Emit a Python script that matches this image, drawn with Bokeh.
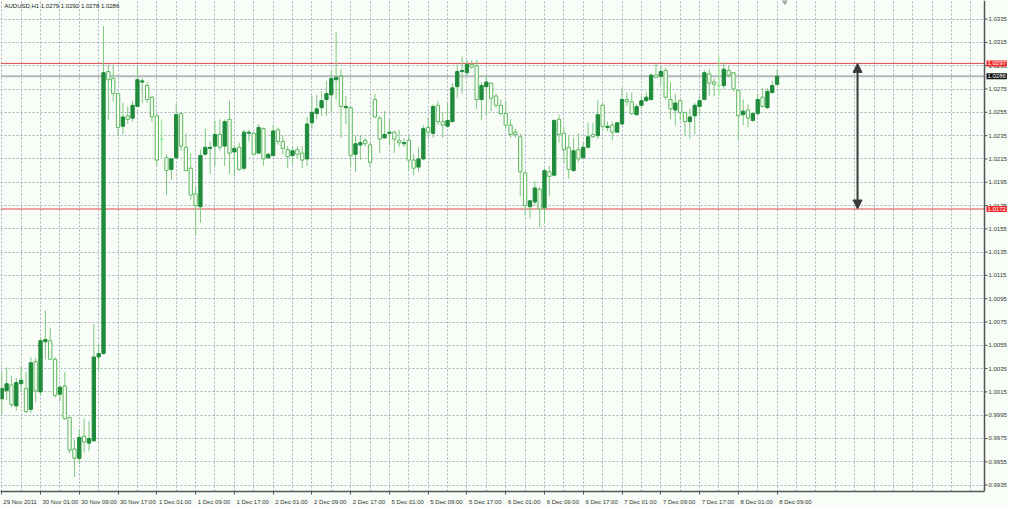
from bokeh.plotting import figure
from bokeh.models import (ColumnDataSource, FixedTicker, Span, Label, Arrow,
                          NormalHead, Range1d, BoxAnnotation)
from bokeh.embed import file_html
from bokeh.resources import INLINE
from bokeh.core.properties import value

# ---------------- data ----------------
symbol_title = "AUDUSD,H1  1.0279 1.0292 1.0278 1.0286"

opens = [1.0009, 1.0016, 1.0021, 1.0003, 1.0022, 1.0018, 1.0000, 1.0041, 1.0015, 1.0058,
         1.0059, 1.0043, 1.0013, 1.0020, 0.9993, 0.9966, 0.9958, 0.9977, 0.9971, 0.9973,
         1.0045, 1.0048, 1.0290, 1.0284, 1.0271, 1.0243, 1.0252, 1.0250, 1.0260, 1.0281,
         1.0278, 1.0268, 1.0252, 1.0232, 1.0216, 1.0206, 1.0216, 1.0254, 1.0225, 1.0207,
         1.0185, 1.0174, 1.0219, 1.0224, 1.0226, 1.0236, 1.0226, 1.0249, 1.0221, 1.0225,
         1.0207, 1.0237, 1.0237, 1.0220, 1.0241, 1.0216, 1.0218, 1.0240, 1.0230, 1.0223,
         1.0218, 1.0223, 1.0220, 1.0215, 1.0246, 1.0254, 1.0259, 1.0266, 1.0270, 1.0283,
         1.0286, 1.0259, 1.0259, 1.0219, 1.0227, 1.0231, 1.0227, 1.0266, 1.0250, 1.0233,
         1.0237, 1.0238, 1.0231, 1.0228, 1.0231, 1.0214, 1.0208, 1.0215, 1.0242, 1.0237,
         1.0261, 1.0247, 1.0243, 1.0247, 1.0277, 1.0290, 1.0289, 1.0296, 1.0295, 1.0266,
         1.0277, 1.0280, 1.0269, 1.0261, 1.0254, 1.0244, 1.0238, 1.0234, 1.0203, 1.0174,
         1.0178, 1.0189, 1.0173, 1.0204, 1.0201, 1.0249, 1.0237, 1.0225, 1.0205, 1.0223,
         1.0216, 1.0225, 1.0236, 1.0235, 1.0261, 1.0242, 1.0244, 1.0238, 1.0245, 1.0266,
         1.0264, 1.0253, 1.0261, 1.0265, 1.0266, 1.0287, 1.0286, 1.0291, 1.0266, 1.0257,
         1.0265, 1.0255, 1.0247, 1.0252, 1.0260, 1.0266, 1.0288, 1.0281, 1.0278, 1.0278,
         1.0291, 1.0289, 1.0274, 1.0253, 1.0257, 1.0248, 1.0254, 1.0268, 1.0259, 1.0272,
         1.0279]
highs = [1.0032, 1.0036, 1.0029, 1.0027, 1.0037, 1.0032, 1.0045, 1.0044, 1.0062, 1.0085,
         1.0070, 1.0045, 1.0021, 1.0032, 0.9994, 0.9974, 0.9983, 0.9992, 0.9990, 1.0073,
         1.0056, 1.0329, 1.0296, 1.0296, 1.0272, 1.0263, 1.0260, 1.0265, 1.0294, 1.0284,
         1.0281, 1.0269, 1.0254, 1.0249, 1.0219, 1.0216, 1.0262, 1.0255, 1.0237, 1.0220,
         1.0191, 1.0223, 1.0241, 1.0230, 1.0248, 1.0249, 1.0249, 1.0265, 1.0227, 1.0229,
         1.0240, 1.0240, 1.0238, 1.0245, 1.0242, 1.0220, 1.0244, 1.0242, 1.0235, 1.0226,
         1.0225, 1.0226, 1.0226, 1.0251, 1.0269, 1.0270, 1.0273, 1.0282, 1.0291, 1.0324,
         1.0292, 1.0269, 1.0260, 1.0235, 1.0235, 1.0233, 1.0229, 1.0271, 1.0252, 1.0256,
         1.0249, 1.0239, 1.0240, 1.0233, 1.0235, 1.0219, 1.0225, 1.0244, 1.0251, 1.0262,
         1.0265, 1.0255, 1.0263, 1.0280, 1.0296, 1.0303, 1.0300, 1.0300, 1.0300, 1.0281,
         1.0286, 1.0281, 1.0271, 1.0266, 1.0265, 1.0249, 1.0241, 1.0237, 1.0204, 1.0180,
         1.0196, 1.0191, 1.0207, 1.0209, 1.0249, 1.0253, 1.0242, 1.0235, 1.0233, 1.0237,
         1.0229, 1.0246, 1.0246, 1.0266, 1.0263, 1.0247, 1.0247, 1.0247, 1.0276, 1.0272,
         1.0272, 1.0262, 1.0269, 1.0272, 1.0288, 1.0297, 1.0295, 1.0293, 1.0281, 1.0271,
         1.0266, 1.0255, 1.0258, 1.0263, 1.0269, 1.0291, 1.0292, 1.0284, 1.0303, 1.0298,
         1.0295, 1.0289, 1.0275, 1.0266, 1.0262, 1.0255, 1.0271, 1.0276, 1.0276, 1.0282,
         1.0292]
lows = [0.9996, 1.0008, 1.0002, 0.9999, 1.0015, 0.9997, 0.9997, 1.0006, 1.0012, 1.0043,
        1.0042, 1.0010, 1.0007, 0.9991, 0.9962, 0.9942, 0.9953, 0.9963, 0.9964, 0.9972,
        1.0032, 1.0047, 1.0248, 1.0264, 1.0235, 1.0236, 1.0245, 1.0247, 1.0260, 1.0263,
        1.0263, 1.0247, 1.0209, 1.0216, 1.0184, 1.0197, 1.0215, 1.0222, 1.0205, 1.0180,
        1.0149, 1.0160, 1.0218, 1.0202, 1.0209, 1.0222, 1.0209, 1.0202, 1.0200, 1.0205,
        1.0205, 1.0230, 1.0218, 1.0220, 1.0209, 1.0215, 1.0217, 1.0227, 1.0219, 1.0207,
        1.0210, 1.0215, 1.0207, 1.0209, 1.0241, 1.0249, 1.0252, 1.0252, 1.0255, 1.0266,
        1.0233, 1.0245, 1.0208, 1.0204, 1.0214, 1.0226, 1.0208, 1.0250, 1.0220, 1.0233,
        1.0227, 1.0220, 1.0225, 1.0225, 1.0205, 1.0201, 1.0204, 1.0214, 1.0233, 1.0233,
        1.0244, 1.0233, 1.0242, 1.0247, 1.0267, 1.0271, 1.0286, 1.0292, 1.0258, 1.0248,
        1.0252, 1.0256, 1.0259, 1.0252, 1.0241, 1.0233, 1.0233, 1.0183, 1.0167, 1.0164,
        1.0175, 1.0156, 1.0160, 1.0183, 1.0200, 1.0229, 1.0211, 1.0198, 1.0204, 1.0212,
        1.0216, 1.0224, 1.0233, 1.0232, 1.0240, 1.0239, 1.0231, 1.0238, 1.0244, 1.0260,
        1.0253, 1.0252, 1.0258, 1.0264, 1.0265, 1.0285, 1.0278, 1.0266, 1.0249, 1.0244,
        1.0248, 1.0235, 1.0232, 1.0236, 1.0252, 1.0266, 1.0269, 1.0269, 1.0270, 1.0275,
        1.0285, 1.0273, 1.0231, 1.0244, 1.0242, 1.0247, 1.0252, 1.0259, 1.0258, 1.0271,
        1.0278]
closes = [1.0018, 1.0022, 1.0004, 1.0023, 1.0025, 0.9998, 1.0040, 1.0016, 1.0059, 1.0060,
          1.0043, 1.0012, 1.0019, 0.9992, 0.9965, 0.9958, 0.9976, 0.9972, 0.9975, 1.0045,
          1.0048, 1.0289, 1.0283, 1.0271, 1.0242, 1.0251, 1.0249, 1.0261, 1.0283, 1.0282,
          1.0266, 1.0251, 1.0214, 1.0232, 1.0205, 1.0215, 1.0253, 1.0226, 1.0205, 1.0184,
          1.0175, 1.0218, 1.0225, 1.0225, 1.0236, 1.0225, 1.0247, 1.0220, 1.0224, 1.0206,
          1.0238, 1.0238, 1.0219, 1.0242, 1.0215, 1.0219, 1.0239, 1.0230, 1.0224, 1.0217,
          1.0222, 1.0219, 1.0214, 1.0245, 1.0255, 1.0258, 1.0265, 1.0271, 1.0284, 1.0285,
          1.0260, 1.0260, 1.0218, 1.0228, 1.0229, 1.0228, 1.0212, 1.0251, 1.0232, 1.0236,
          1.0238, 1.0232, 1.0229, 1.0229, 1.0214, 1.0207, 1.0215, 1.0241, 1.0238, 1.0260,
          1.0247, 1.0244, 1.0248, 1.0276, 1.0290, 1.0291, 1.0296, 1.0294, 1.0266, 1.0278,
          1.0281, 1.0267, 1.0261, 1.0254, 1.0244, 1.0236, 1.0236, 1.0204, 1.0175, 1.0179,
          1.0190, 1.0172, 1.0205, 1.0200, 1.0248, 1.0236, 1.0223, 1.0206, 1.0222, 1.0215,
          1.0225, 1.0234, 1.0234, 1.0253, 1.0243, 1.0243, 1.0238, 1.0246, 1.0266, 1.0264,
          1.0254, 1.0260, 1.0265, 1.0268, 1.0287, 1.0285, 1.0290, 1.0268, 1.0258, 1.0263,
          1.0255, 1.0247, 1.0251, 1.0261, 1.0265, 1.0289, 1.0280, 1.0279, 1.0278, 1.0292,
          1.0287, 1.0275, 1.0252, 1.0256, 1.0250, 1.0254, 1.0266, 1.0260, 1.0273, 1.0278,
          1.0286]

time_labels = ["29 Nov 2011", "30 Nov 01:00", "30 Nov 09:00", "30 Nov 17:00",
               "1 Dec 01:00", "1 Dec 09:00", "1 Dec 17:00", "2 Dec 01:00",
               "2 Dec 09:00", "2 Dec 17:00", "5 Dec 01:00", "5 Dec 09:00",
               "5 Dec 17:00", "6 Dec 01:00", "6 Dec 09:00", "6 Dec 17:00",
               "7 Dec 01:00", "7 Dec 09:00", "7 Dec 17:00", "8 Dec 01:00",
               "8 Dec 09:00"]
bars_per_label = 8
bars_per_grid = 4

price_ticks = [0.9935, 0.9955, 0.9975, 0.9995, 1.0015, 1.0035, 1.0055, 1.0075,
               1.0095, 1.0115, 1.0135, 1.0155, 1.0175, 1.0195, 1.0215, 1.0235,
               1.0255, 1.0275, 1.0295, 1.0315, 1.0335]

level_high = 1.0297     # red line / tag
level_low = 1.0172      # red line / tag
bid_level = 1.0286      # gray bid line / black tag
arrow_bar = 176.6       # bar position of the measuring arrow
shift_bar = 161.6       # chart-shift marker

# ---------------- styling ----------------
W, H = 1008, 507
BG = "#f8fdf8"
BULL = "#1f8b3b"
BEAR_LINE = "#5cb85c"
WICK = "#80c880"
DOJI = "#86f086"
GRID = "#a9b0bf"
AXIS = "#555555"
FONT = "Liberation Sans"
FS = "6px"
SCALE_W = 24                      # pixel width of the price scale

x_start, axis_bar = -0.26, 202.8  # chart area in bar units
px_per_bar = (W - SCALE_W) / (axis_bar - x_start)
x_end = x_start + W / px_per_bar  # includes the price scale area
y_start, y_end = 0.99295, 1.03510

n = len(opens)
x = list(range(n))
kind = ["bull" if c > o else ("bear" if c < o else "doji") for o, c in zip(opens, closes)]
body_fill = [BULL if k == "bull" else (BG if k == "bear" else DOJI) for k in kind]
body_line = [BULL if k == "bull" else (BEAR_LINE if k == "bear" else DOJI) for k in kind]
wick_col = [DOJI if k == "doji" else WICK for k in kind]

src = ColumnDataSource(dict(
    x=x, o=opens, h=highs, l=lows, c=closes,
    top=[max(o, c) for o, c in zip(opens, closes)],
    bottom=[min(o, c) for o, c in zip(opens, closes)],
    fill=body_fill, line=body_line, wick=wick_col,
))

p = figure(width=W, height=H, output_backend="svg", toolbar_location=None,
           x_range=Range1d(x_start, x_end), y_range=Range1d(y_start, y_end),
           y_axis_location=None, min_border_left=0, min_border_top=0,
           min_border_right=0, min_border_bottom=0,
           background_fill_color=BG, border_fill_color=BG)
p.outline_line_color = None

# grid
p.xgrid.ticker = FixedTicker(ticks=list(range(0, 204, bars_per_grid)))
p.ygrid.ticker = FixedTicker(ticks=price_ticks)
for g in (p.xgrid, p.ygrid):
    g.grid_line_color = GRID
    g.grid_line_dash = "2 2"
    g.grid_line_width = 1

# horizontal levels (underlay, so the price scale box hides their tail)
p.add_layout(Span(location=bid_level, dimension="width", line_color="#b4b9be",
                  line_width=2, level="underlay"))
p.add_layout(Span(location=level_high, dimension="width", line_color="#e04848",
                  line_width=1, level="underlay"))
p.add_layout(Span(location=level_low, dimension="width", line_color="#e04848",
                  line_width=1, level="underlay"))

# price scale background and line
p.add_layout(BoxAnnotation(left=axis_bar, fill_color=BG, fill_alpha=1.0,
                           line_alpha=0, level="underlay"))
p.add_layout(Span(location=axis_bar, dimension="height", line_color=AXIS, line_width=1.5))

# x axis: labels begin at their grid line (MT4 style)
label_grid = [i * bars_per_label for i in range(len(time_labels))]
label_centers = [g + (2 + 0.5 * 2.97 * len(t)) / px_per_bar
                 for g, t in zip(label_grid, time_labels)]
xa = p.xaxis[0]
xa.ticker = FixedTicker(ticks=label_centers, minor_ticks=label_grid)
xa.major_label_overrides = {c: t for c, t in zip(label_centers, time_labels)}
xa.bounds = (x_start, axis_bar)
xa.major_tick_line_color = None
xa.minor_tick_line_color = AXIS
xa.minor_tick_in = 0
xa.minor_tick_out = 3
xa.axis_line_color = AXIS
xa.axis_line_width = 1.5
xa.major_label_text_font = FONT
xa.major_label_text_font_size = FS
xa.major_label_text_color = "#333333"
xa.major_label_standoff = 1

# candles
p.segment(x0="x", y0="l", x1="x", y1="h", source=src, line_color="wick", line_width=1)
p.vbar(x="x", top="top", bottom="bottom", width=0.68, source=src,
       fill_color="fill", line_color="line", line_width=1)

# price scale ticks and labels
p.ray(x=[axis_bar] * len(price_ticks), y=price_ticks, length=3, length_units="screen",
      angle=0, line_color=AXIS, line_width=1)
p.text(x=[axis_bar] * len(price_ticks), y=price_ticks,
       text=[f"{v:.4f}" for v in price_ticks], x_offset=4,
       text_align="left", text_baseline="middle", text_font=value(FONT),
       text_font_size=FS, text_color="#333333")

# measuring arrow
p.add_layout(Arrow(x_start=arrow_bar, y_start=level_low, x_end=arrow_bar, y_end=level_high,
                   line_color="#3a3a3a", line_width=2,
                   start=NormalHead(size=9, fill_color="#3a3a3a", line_color="#3a3a3a"),
                   end=NormalHead(size=9, fill_color="#3a3a3a", line_color="#3a3a3a")))

# chart shift marker
p.scatter(x=[shift_bar], y=[y_end], marker="inverted_triangle", size=7,
          fill_color="#a0a0a0", line_color="#a0a0a0")

# price tags on the right scale
for val, col in ((level_high, "#f02828"), (bid_level, "#101010"), (level_low, "#f02828")):
    p.add_layout(Label(x=axis_bar, y=val, x_offset=2, text=f"{val:.4f}",
                       text_align="left", text_baseline="middle",
                       text_font=FONT, text_font_size=FS, text_color="white",
                       background_fill_color=col, padding=1))

# title
p.add_layout(Label(x=x_start, y=y_end, x_offset=4, y_offset=-2, text=symbol_title,
                   text_align="left", text_baseline="top",
                   text_font=FONT, text_font_size=FS, text_color="#202020"))

open("out.html", "w").write(file_html(p, INLINE))
